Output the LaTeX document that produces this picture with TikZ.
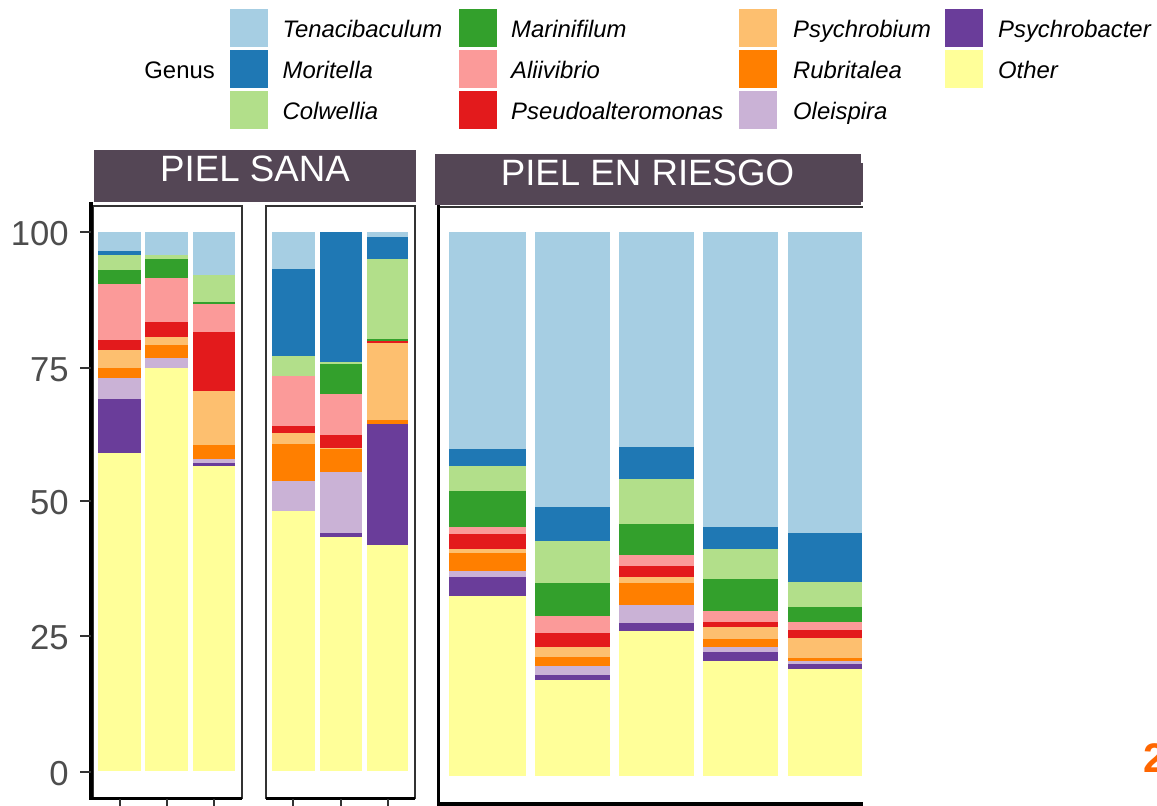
\documentclass[tikz,border=0pt]{standalone}
\usepackage{fontspec}
\setmainfont{Liberation Sans}
\usepackage{xcolor}
\usepackage{tikz}

\definecolor{cTenac}{RGB}{166,206,227}
\definecolor{cMorit}{RGB}{31,120,180}
\definecolor{cColwe}{RGB}{178,223,138}
\definecolor{cMarin}{RGB}{51,160,44}
\definecolor{cAliiv}{RGB}{251,154,153}
\definecolor{cPseud}{RGB}{227,26,28}
\definecolor{cPsyrb}{RGB}{253,191,111}
\definecolor{cRubri}{RGB}{255,127,0}
\definecolor{cOleis}{RGB}{202,178,214}
\definecolor{cPsyrt}{RGB}{106,61,154}
\definecolor{cOther}{RGB}{255,255,153}
\definecolor{cStrip}{RGB}{84,70,85}
\definecolor{cFrame}{RGB}{51,51,51}
\definecolor{cTickText}{RGB}{77,77,77}
\definecolor{cPageNum}{RGB}{255,102,0}

\begin{document}
\begin{tikzpicture}[x=0.75pt,y=0.75pt,yscale=-1,xscale=1,
  tenac/.style={fill=cTenac}, morit/.style={fill=cMorit}, colwe/.style={fill=cColwe},
  marin/.style={fill=cMarin}, aliiv/.style={fill=cAliiv}, pseud/.style={fill=cPseud},
  psyrb/.style={fill=cPsyrb}, rubri/.style={fill=cRubri}, oleis/.style={fill=cOleis},
  psyrt/.style={fill=cPsyrt}, other/.style={fill=cOther},
  stripbox/.style={fill=cStrip},
  striptext/.style={anchor=base,text=white,inner sep=0pt,font=\fontsize{27.5}{32}\selectfont},
  panelframe/.style={draw=cFrame,line width=0.9pt},
  axisline/.style={draw=black,line width=2.4pt},
  tickmark/.style={draw=cFrame,line width=1.1pt},
  ticklabel/.style={anchor=base east,text=cTickText,inner sep=0pt,font=\fontsize{26}{30}\selectfont},
  keytext/.style={anchor=base west,inner sep=0pt,font=\fontsize{17.9}{21}\selectfont\itshape}
]
\useasboundingbox (0,0) rectangle (1157,806);
\clip (0,0) rectangle (1157,806);

% Legend
\node [keytext,anchor=base east,font=\fontsize{17.9}{21}\selectfont] (genus) at (215,79) {Genus};
\foreach \g/\t/\kx/\tx/\row in {tenac/Tenacibaculum/229.6/282.4/0, morit/Moritella/229.6/282.4/1, colwe/Colwellia/229.6/282.4/2,
  marin/Marinifilum/458.5/510.9/0, aliiv/Aliivibrio/458.5/510.9/1, pseud/Pseudoalteromonas/458.5/510.9/2,
  psyrb/Psychrobium/739.3/792.9/0, rubri/Rubritalea/739.3/792.9/1, oleis/Oleispira/739.3/792.9/2,
  psyrt/Psychrobacter/945.3/997.9/0, other/Other/945.3/997.9/1}
{
  \fill [\g] (\kx,9+41*\row) rectangle (\kx+38,47+41*\row);
  \node [keytext] (key-\g) at (\tx,37.7+41*\row) {\t};
}

% Strip: PIEL SANA
\fill [stripbox] (94,150) rectangle (416,202);
\node [striptext] (sana) at (255,181.7) {PIEL SANA};
% Strip: PIEL EN RIESGO
\fill [stripbox] (435,154) rectangle (861,205);
\fill [stripbox] (861,163) rectangle (863,202);
\node [striptext] (riesgo) at (647.5,185.7) {PIEL EN RIESGO};

% Bars, PIEL SANA (left group)
\foreach \xa/\xb/\segs in {
  98/141/{tenac/251.3,morit/255,colwe/270,marin/284,aliiv/340.3,pseud/349.7,psyrb/368.3,rubri/377.7,oleis/399.3,psyrt/453.3,other/771},
  145/188/{tenac/255.3,colwe/259.3,marin/278,aliiv/322,pseud/337.3,psyrb/345.3,rubri/358,oleis/368.3,other/771},
  193/235/{tenac/274.7,colwe/302.3,marin/303.7,aliiv/332.3,pseud/391,psyrb/445.3,rubri/459.3,oleis/463.3,psyrt/466,other/771},
  272/315/{tenac/268.7,morit/355.7,colwe/376,aliiv/425.7,pseud/433,psyrb/444,rubri/481,oleis/511.3,other/771},
  320/362/{morit/362.3,colwe/364.3,marin/393.7,aliiv/435,pseud/448.3,psyrb/449.3,rubri/472,oleis/533.3,psyrt/536.7,other/771},
  367/408/{tenac/236.7,morit/259.3,colwe/339.3,marin/341,pseud/342.7,psyrb/420,rubri/423.7,psyrt/544.7,other/771}}
{
  \foreach \g/\yb [remember=\yb as \ya (initially 232)] in \segs
    \fill [\g] (\xa,\ya) rectangle (\xb,\yb);
}

% Bars, PIEL EN RIESGO
\foreach \xa/\xb/\segs in {
  449/526/{tenac/449,morit/466.3,colwe/491.3,marin/527,aliiv/534.3,pseud/549,psyrb/553.3,rubri/571,oleis/576.7,psyrt/595.7,other/776},
  535/610/{tenac/506.7,morit/541,colwe/583.3,marin/616,aliiv/633,pseud/647,psyrb/656.7,rubri/665.7,oleis/675,psyrt/679.7,other/776},
  619/694/{tenac/447,morit/479,colwe/523.7,marin/555.3,aliiv/566,pseud/577,psyrb/583.3,rubri/605.3,oleis/623.3,psyrt/631.3,other/776},
  703/778/{tenac/527,morit/549,colwe/578.7,marin/611.3,aliiv/622,pseud/626.7,psyrb/639.3,rubri/647.3,oleis/651.7,psyrt/661.3,other/776},
  788/862/{tenac/533.3,morit/581.7,colwe/606.7,marin/622.3,aliiv/630,pseud/637.7,psyrb/658.3,rubri/661.3,oleis/664,psyrt/669,other/776}}
{
  \foreach \g/\yb [remember=\yb as \ya (initially 232)] in \segs
    \fill [\g] (\xa,\ya) rectangle (\xb,\yb);
}

% Panel frames
\draw [panelframe] (93,206) rectangle (242,798);
\draw [panelframe] (266,206) rectangle (415,798);
\draw [panelframe] (438,207) -- (863,207);

% Axis lines
\draw [axisline] (91,202) -- (91,800);
\draw [axisline] (91,798.5) -- (242,798.5);
\draw [axisline] (266,798.5) -- (415,798.5);
\draw [axisline] (438.5,205) -- (438.5,806);
\draw [axisline,line width=3pt] (437,803.5) -- (863,803.5);

% Ticks and labels
\foreach \v/\y in {100/232,75/368,50/501,25/636,0/772}
{
  \draw [tickmark] (80,\y) -- (91,\y);
  \node [ticklabel] (ylab-\v) at (69,\y+13.5) {\v};
}
\foreach \x in {120,167,214,293,341,388}
  \draw [tickmark] (\x,799) -- (\x,806);

% Page number
\node [anchor=base west,inner sep=0pt,text=cPageNum,font=\fontsize{31}{36}\selectfont\bfseries] (pagenum) at (1143,772) {2};

\end{tikzpicture}
\end{document}
